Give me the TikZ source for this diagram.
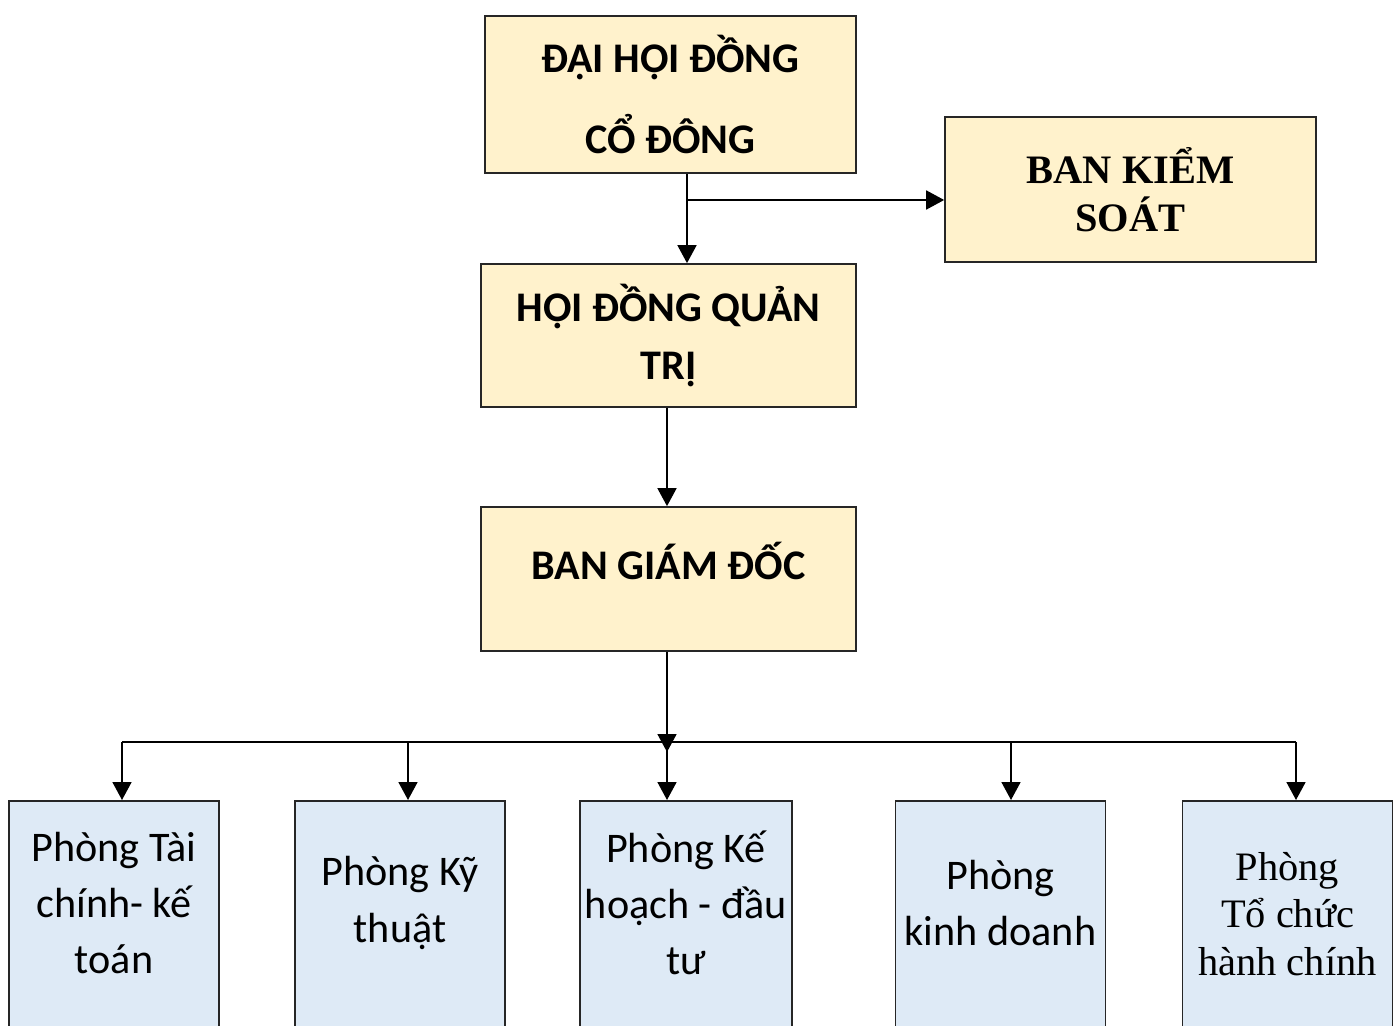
\documentclass[tikz,border=0pt]{standalone}
\usepackage{fontspec}
\setmainfont{Carlito}
\newfontfamily\timesfont{Liberation Serif}
\usetikzlibrary{arrows.meta}
\definecolor{cream}{HTML}{FFF2CC}
\definecolor{paleblue}{HTML}{DEEAF6}
\tikzset{
  board/.style={draw=black!85, line width=1pt, fill=cream, align=center, inner sep=0pt,
    font=\fontsize{24}{29}\selectfont\bfseries},
  dept/.style={draw=black!85, line width=1pt, fill=paleblue, anchor=north, inner sep=0pt,
    minimum width=4.2cm, minimum height=6cm},
  depttext/.style={align=center, yshift=-2.06cm, font=\fontsize{24}{32}\selectfont},
  arr/.style={line width=1pt, -{Triangle[length=3.6mm,width=3.8mm]}},
  link/.style={line width=1pt}
}
\begin{document}
\begin{tikzpicture}[x=0.02cm, y=-0.02cm]
  \path[use as bounding box, clip] (0,0) rectangle (1395,1026);
  \fill[white] (0,0) rectangle (1395,1026);
  \node[board, minimum width=7.42cm, minimum height=3.14cm] (dhdcd) at (670.5,94.5)
    {ĐẠI HỘI ĐỒNG\\[17pt]CỔ ĐÔNG};
  \node[board, minimum width=7.42cm, minimum height=2.9cm,
    font=\fontsize{23}{27}\selectfont\timesfont\bfseries] (bks) at (1130.5,189.5)
    {BAN KIỂM\\SOÁT};
  \node[board, minimum width=7.5cm, minimum height=2.86cm] (hdqt) at (668.5,335.5)
    {HỘI ĐỒNG QUẢN\\[4.5pt]TRỊ};
  \node[board, minimum width=7.5cm, minimum height=2.88cm, text depth=21pt] (bgd) at (668.5,579)
    {BAN GIÁM ĐỐC};
  \node[dept] (p1) at (114,800) {};
  \node[dept] (p2) at (400,800) {};
  \node[dept, minimum width=4.24cm] (p3) at (686,800) {};
  \node[dept] (p4) at (1000.5,800) {};
  \node[dept] (p5) at (1287.5,800) {};
  \node[depttext] (t1) at (p1.north) {Phòng Tài\\chính- kế\\toán};
  \node[depttext] (t2) at (p2.north) {Phòng Kỹ\\thuật};
  \node[depttext] (t3) at (p3.north) {Phòng Kế\\hoạch - đầu\\tư};
  \node[depttext] (t4) at (p4.north) {Phòng\\kinh doanh};
  \node[depttext, yshift=-0.22cm, font=\fontsize{23}{27}\selectfont\timesfont] (t5) at (p5.north)
    {Phòng\\Tổ chức\\hành chính};
  \coordinate (j1) at (687,200);
  \draw[arr] (j1 |- dhdcd.south) -- (j1 |- hdqt.north);
  \draw[arr] (j1) -- (j1 -| bks.west);
  \draw[arr] (hdqt.south -| 667,0) -- (bgd.north -| 667,0);
  \foreach \n/\x in {1/122,2/408,3/667,4/1011,5/1296} {
    \coordinate (b\n) at (\x,742);
    \draw[arr] (b\n) -- (b\n |- p\n.north);
  }
  \draw[link] (b1) -- (b5);
  \draw[arr] (bgd.south -| b3) -- ([yshift=-0.2cm]b3);
\end{tikzpicture}
\end{document}
